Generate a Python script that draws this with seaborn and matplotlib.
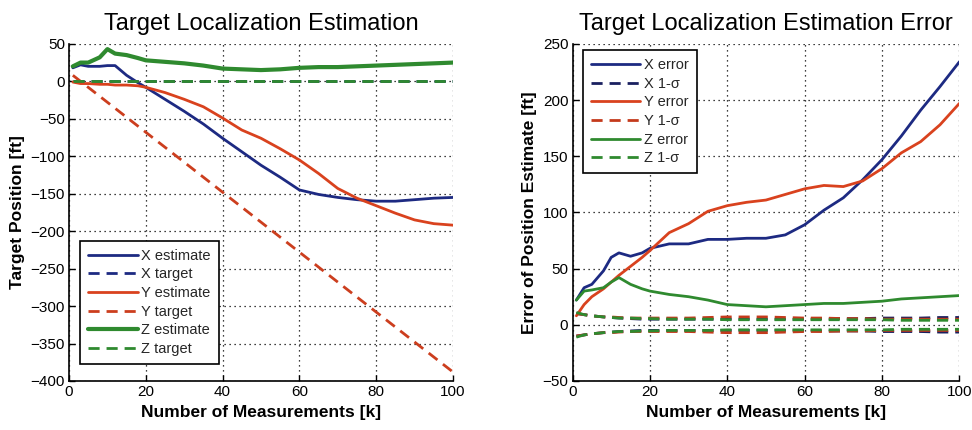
import matplotlib
matplotlib.use("Agg")
import matplotlib.pyplot as plt
import seaborn as sns

# ---------------- data ----------------
K = [1, 3, 5, 8, 10, 12, 15, 18, 20, 25, 30, 35, 40, 45, 50, 55, 60, 65, 70, 75, 80, 85, 90, 95, 100]

# left panel: estimates
x_est = [18, 22, 20, 20, 21, 21, 8, -2, -8, -24, -40, -57, -76, -94, -112, -128, -145, -151, -155, -158, -160, -160, -158, -156, -155]
y_est = [-1, -3, -3, -4, -4, -5, -5, -6, -8, -15, -24, -34, -49, -65, -76, -90, -105, -123, -143, -156, -166, -176, -185, -190, -192]
z_est = [20, 25, 25, 32, 43, 37, 35, 31, 28, 26, 24, 21, 17, 16, 15, 16, 18, 19, 19, 20, 21, 22, 23, 24, 25]

# left panel: targets
target_k = [1, 100]
x_tgt = [0, 0]
y_tgt = [8, -388]
z_tgt = [0, 0]

# right panel: errors
x_err = [22, 33, 36, 48, 60, 64, 61, 64, 68, 72, 72, 76, 76, 77, 77, 80, 89, 102, 113, 129, 147, 168, 191, 212, 234]
y_err = [8, 18, 25, 32, 38, 44, 52, 60, 66, 82, 90, 101, 106, 109, 111, 116, 121, 124, 123, 128, 139, 153, 163, 178, 197]
z_err = [22, 30, 31, 33, 38, 42, 36, 32, 30, 27, 25, 22, 18, 17, 16, 17, 18, 19, 19, 20, 21, 23, 24, 25, 26]

# right panel: 1-sigma bounds
x_sig = [10, 9, 8, 7, 6.5, 6, 5.5, 5, 5, 5, 5, 5, 5, 5, 5, 5, 5, 5.5, 5.5, 5.5, 6, 6, 6, 6.5, 6.5]
y_sig = [10, 9, 8, 7, 7, 6.5, 6, 6, 6, 6, 6, 6.5, 7, 7, 7, 6.5, 6, 6, 5.5, 5.5, 5, 5, 5, 5, 5]
z_sig = [11, 9, 8, 7, 6.5, 6, 6, 5.5, 5.5, 5, 5, 5, 4.5, 4.5, 4.5, 4.5, 4.5, 4.5, 4.5, 4.5, 4.5, 4, 4, 4, 4]

left_yticks = [50, 0, -50, -100, -150, -200, -250, -300, -350, -400]
right_yticks = [250, 200, 150, 100, 50, 0, -50]
xticks = [0, 20, 40, 60, 80, 100]

# ---------------- style ----------------
sns.set_theme(style="white")
plt.rcParams['font.family'] = ['Liberation Sans', 'DejaVu Sans']

BLUE = '#1d2a82'
RED = '#d9421e'
GREEN = '#2f8a2f'
DASH = (4, 2.5)

fig = plt.figure(figsize=(9.72, 4.30), dpi=100)
axL = fig.add_axes([0.071, 0.114, 0.395, 0.784])
axR = fig.add_axes([0.589, 0.114, 0.398, 0.784])


def style_axes(ax, yticks, ylim, title, ylabel):
    ax.set_xlim(0, 100)
    ax.set_ylim(*ylim)
    ax.set_xticks(xticks)
    ax.set_yticks(yticks)
    ax.grid(True, linestyle=(0, (1, 3)), color='black', linewidth=0.9)
    for s in ['top', 'right']:
        ax.spines[s].set_visible(False)
    for s in ['left', 'bottom']:
        ax.spines[s].set_color('black')
        ax.spines[s].set_linewidth(1.2)
    ax.tick_params(axis='both', direction='in', length=4, width=1,
                   labelsize=11, colors='black', pad=3, left=True, bottom=True)
    ax.set_title(title, fontsize=17, pad=10, color='black')
    ax.set_xlabel('Number of Measurements [k]', fontsize=12.5,
                  fontweight='bold', labelpad=4, color='black')
    ax.set_ylabel(ylabel, fontsize=12.5, fontweight='bold', labelpad=4, color='black')


def add_legend(ax, loc, anchor):
    leg = ax.legend(loc=loc, bbox_to_anchor=anchor, fontsize=10.5,
                    frameon=True, fancybox=False, edgecolor='black',
                    handlelength=3.4, handletextpad=0.25, labelspacing=0.32,
                    borderpad=0.55, borderaxespad=0)
    leg.get_frame().set_linewidth(1.2)
    leg.get_frame().set_alpha(1)
    return leg


# ---------- left panel ----------
sns.lineplot(x=K, y=x_est, ax=axL, color=BLUE, lw=2, label='X estimate')
sns.lineplot(x=target_k, y=x_tgt, ax=axL, color=BLUE, lw=2,
             linestyle='--', label='X target').lines[-1].set_dashes(DASH)
sns.lineplot(x=K, y=y_est, ax=axL, color=RED, lw=2, label='Y estimate')
sns.lineplot(x=target_k, y=y_tgt, ax=axL, color='#cc3e1e', lw=2,
             linestyle='--', label='Y target').lines[-1].set_dashes(DASH)
sns.lineplot(x=K, y=z_est, ax=axL, color=GREEN, lw=3, label='Z estimate')
sns.lineplot(x=target_k, y=z_tgt, ax=axL, color=GREEN, lw=2,
             linestyle='--', label='Z target').lines[-1].set_dashes(DASH)

style_axes(axL, left_yticks, (-400, 50), 'Target Localization Estimation', 'Target Position [ft]')
add_legend(axL, 'lower left', (0.029, 0.05))

# ---------- right panel ----------
sns.lineplot(x=K, y=x_err, ax=axR, color=BLUE, lw=2, label='X error')
sns.lineplot(x=K, y=x_sig, ax=axR, color='#1a2060', lw=2,
             linestyle='--', label='X 1-σ').lines[-1].set_dashes(DASH)
sns.lineplot(x=K, y=[-v for v in x_sig], ax=axR, color='#1a2060', lw=2,
             linestyle='--').lines[-1].set_dashes(DASH)
sns.lineplot(x=K, y=y_err, ax=axR, color=RED, lw=2, label='Y error')
sns.lineplot(x=K, y=y_sig, ax=axR, color='#c43a1c', lw=2,
             linestyle='--', label='Y 1-σ').lines[-1].set_dashes(DASH)
sns.lineplot(x=K, y=[-v for v in y_sig], ax=axR, color='#c43a1c', lw=2,
             linestyle='--').lines[-1].set_dashes(DASH)
sns.lineplot(x=K, y=z_err, ax=axR, color=GREEN, lw=2, label='Z error')
sns.lineplot(x=K, y=z_sig, ax=axR, color=GREEN, lw=2,
             linestyle='--', label='Z 1-σ').lines[-1].set_dashes(DASH)
sns.lineplot(x=K, y=[-v for v in z_sig], ax=axR, color=GREEN, lw=2,
             linestyle='--').lines[-1].set_dashes(DASH)

style_axes(axR, right_yticks, (-50, 250), 'Target Localization Estimation Error',
           'Error of Position Estimate [ft]')
add_legend(axR, 'upper left', (0.026, 0.982))

fig.savefig('out.png', dpi=100)
